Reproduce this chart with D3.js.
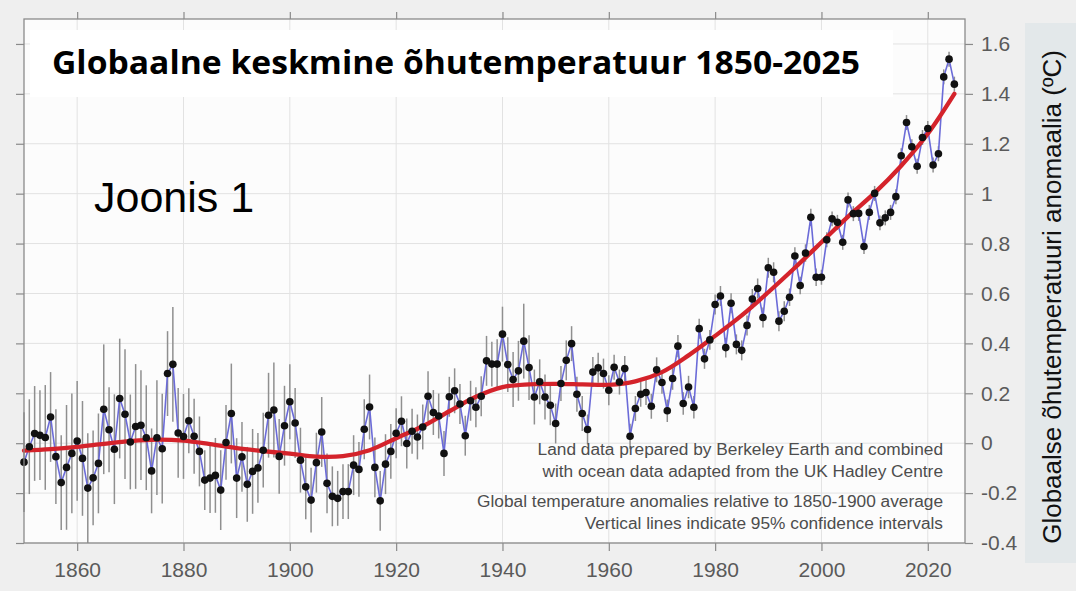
<!DOCTYPE html>
<html>
<head>
<meta charset="utf-8">
<script src="https://cdn.jsdelivr.net/npm/d3@7"></script>
<style>
  html, body { margin: 0; padding: 0; background: #efefef; }
  svg { display: block; }
</style>
</head>
<body>
<svg id="chart" width="1076" height="591"></svg>
<script>
// ---------------- DATA ----------------
const firstYear = 1850;
const anomalies = [
  -0.076, -0.014, 0.039, 0.032, 0.023, 0.105, -0.054, -0.158, -0.097, -0.041, // 1850s
  0.009, -0.061, -0.180, -0.139, -0.081, 0.136, 0.054, -0.024, 0.179, 0.116,   // 1860s
  0.005, 0.067, 0.072, 0.022, -0.111, 0.022, -0.022, 0.279, 0.316, 0.041,      // 1870s
  0.027, 0.090, 0.028, -0.033, -0.148, -0.140, -0.129, -0.188, 0.003, 0.119,   // 1880s
  -0.140, -0.055, -0.165, -0.113, -0.099, -0.028, 0.112, 0.133, -0.053, 0.070, // 1890s
  0.166, 0.081, -0.068, -0.175, -0.228, -0.078, 0.045, -0.161, -0.213, -0.221, // 1900s
  -0.194, -0.194, -0.088, -0.105, 0.056, 0.145, -0.097, -0.231, -0.084, -0.033,// 1910s
  0.040, 0.088, -0.001, 0.048, 0.025, 0.065, 0.188, 0.123, 0.109, -0.041,      // 1920s
  0.186, 0.210, 0.157, 0.030, 0.170, 0.144, 0.188, 0.330, 0.317, 0.317,        // 1930s
  0.437, 0.315, 0.255, 0.290, 0.409, 0.303, 0.185, 0.246, 0.185, 0.152,        // 1940s
  0.079, 0.239, 0.332, 0.399, 0.196, 0.119, 0.055, 0.285, 0.302, 0.279,        // 1950s
  0.212, 0.304, 0.245, 0.299, 0.028, 0.139, 0.196, 0.203, 0.148, 0.294,        // 1960s
  0.243, 0.130, 0.259, 0.389, 0.159, 0.225, 0.144, 0.459, 0.338, 0.414,        // 1970s
  0.556, 0.590, 0.383, 0.561, 0.396, 0.372, 0.472, 0.578, 0.620, 0.504,        // 1980s
  0.703, 0.685, 0.489, 0.529, 0.585, 0.750, 0.632, 0.762, 0.905, 0.665,        // 1990s
  0.665, 0.815, 0.899, 0.885, 0.805, 0.975, 0.920, 0.921, 0.788, 0.925,        // 2000s
  1.001, 0.883, 0.903, 0.925, 0.988, 1.152, 1.285, 1.188, 1.110, 1.225,        // 2010s
  1.261, 1.115, 1.160, 1.468, 1.539, 1.439                                      // 2020s
];
// 95% confidence half-widths (°C)
const uncertainty = [
  0.20, 0.19, 0.19, 0.18, 0.21, 0.18, 0.19, 0.19, 0.25, 0.24,
  0.24, 0.23, 0.22, 0.19, 0.20, 0.26, 0.17, 0.22, 0.24, 0.26,
  0.19, 0.25, 0.22, 0.21, 0.17, 0.23, 0.22, 0.17, 0.23, 0.18,
  0.17, 0.13, 0.15, 0.14, 0.12, 0.14, 0.15, 0.16, 0.15, 0.20,
  0.16, 0.14, 0.15, 0.17, 0.14, 0.15, 0.17, 0.19, 0.15, 0.16,
  0.15, 0.14, 0.13, 0.13, 0.13, 0.12, 0.14, 0.12, 0.12, 0.11,
  0.11, 0.11, 0.12, 0.11, 0.12, 0.13, 0.12, 0.12, 0.12, 0.11,
  0.10, 0.10, 0.10, 0.09, 0.09, 0.09, 0.10, 0.09, 0.09, 0.09,
  0.08, 0.09, 0.08, 0.08, 0.08, 0.08, 0.08, 0.10, 0.09, 0.10,
  0.11, 0.11, 0.11, 0.12, 0.15, 0.13, 0.11, 0.09, 0.09, 0.08,
  0.08, 0.07, 0.08, 0.07, 0.07, 0.07, 0.06, 0.06, 0.06, 0.06,
  0.06, 0.05, 0.05, 0.05, 0.05, 0.05, 0.05, 0.05, 0.05, 0.05,
  0.045, 0.045, 0.045, 0.045, 0.045, 0.045, 0.045, 0.04, 0.04, 0.04,
  0.04, 0.04, 0.04, 0.04, 0.04, 0.04, 0.04, 0.04, 0.04, 0.04,
  0.04, 0.04, 0.04, 0.04, 0.035, 0.035, 0.035, 0.035, 0.035, 0.035,
  0.03, 0.03, 0.03, 0.03, 0.03, 0.03, 0.03, 0.03, 0.03, 0.03,
  0.03, 0.03, 0.03, 0.03, 0.03, 0.03, 0.03, 0.03, 0.03, 0.03,
  0.03, 0.03, 0.03, 0.03, 0.03, 0.03
];
// smoothed trend (red curve), read every 5 years
const trendYears = [1850,1855,1860,1865,1870,1875,1880,1885,1890,1895,1900,1905,1910,1915,1920,1925,1930,1935,1940,1945,1950,1955,1960,1965,1970,1975,1980,1985,1990,1995,2000,2005,2010,2015,2020,2025];
const trendValues = [-0.030,-0.024,-0.015,-0.003,0.008,0.014,0.010,-0.004,-0.020,-0.032,-0.042,-0.054,-0.052,-0.028,0.020,0.068,0.128,0.186,0.225,0.236,0.238,0.236,0.234,0.248,0.285,0.352,0.430,0.512,0.605,0.703,0.805,0.908,1.003,1.112,1.240,1.400];

const xTickYears = [1860, 1880, 1900, 1920, 1940, 1960, 1980, 2000, 2020];
const yTickValues = [-0.4, -0.2, 0, 0.2, 0.4, 0.6, 0.8, 1.0, 1.2, 1.4, 1.6];
const yTickLabels = ["-0.4", "-0.2", "0", "0.2", "0.4", "0.6", "0.8", "1", "1.2", "1.4", "1.6"];

const titleText = "Globaalne keskmine õhutemperatuur 1850-2025";
const figureLabel = "Joonis 1";
const yAxisTitle = "Globaalse õhutemperatuuri anomaalia (ºC)";
const noteLines = [
  "Land data prepared by Berkeley Earth and combined",
  "with ocean data adapted from the UK Hadley Centre",
  "Global temperature anomalies relative to 1850-1900 average",
  "Vertical lines indicate 95% confidence intervals"
];

// ---------------- CHART ----------------
const svg = d3.select("#chart");
const L = 24, R = 965, T = 19, B = 543;
const x = d3.scaleLinear().domain([1850, 2027]).range([L, R]);
const y = d3.scaleLinear().domain([-0.4, 1.7]).range([B, T]);

const data = anomalies.map((v, i) => ({ year: firstYear + i, value: v, err: uncertainty[i] }));
const trend = trendYears.map((yr, i) => ({ year: yr, value: trendValues[i] }));

// background
svg.append("rect").attr("x", 0).attr("y", 0).attr("width", 1076).attr("height", 591).attr("fill", "#efefef");
svg.append("rect").attr("x", L).attr("y", T).attr("width", R - L).attr("height", B - T).attr("fill", "#fcfcfc");

// grid
const grid = svg.append("g").attr("stroke", "#e2e2e2").attr("stroke-width", 1);
grid.selectAll("line.v").data(xTickYears).join("line")
  .attr("x1", d => x(d)).attr("x2", d => x(d)).attr("y1", T).attr("y2", B);
grid.selectAll("line.h").data(yTickValues).join("line")
  .attr("y1", d => y(d)).attr("y2", d => y(d)).attr("x1", L).attr("x2", R);

// title box
svg.append("rect").attr("x", 30).attr("y", 30).attr("width", 863).attr("height", 67).attr("fill", "#ffffff");

// error bars
svg.append("g").selectAll("line").data(data).join("line")
  .attr("x1", d => x(d.year)).attr("x2", d => x(d.year))
  .attr("y1", d => y(d.value - d.err)).attr("y2", d => y(d.value + d.err))
  .attr("stroke", "#8f8f8f").attr("stroke-width", 1.5);

// blue annual line
svg.append("path").datum(data)
  .attr("d", d3.line().x(d => x(d.year)).y(d => y(d.value)))
  .attr("fill", "none").attr("stroke", "#6b6bd8").attr("stroke-width", 1.6);

// red trend
svg.append("path").datum(trend)
  .attr("d", d3.line().curve(d3.curveCatmullRom).x(d => x(d.year)).y(d => y(d.value)))
  .attr("fill", "none").attr("stroke", "#d4232b").attr("stroke-width", 4.3).attr("stroke-linecap", "round");

// points
svg.append("g").selectAll("circle").data(data).join("circle")
  .attr("cx", d => x(d.year)).attr("cy", d => y(d.value)).attr("r", 3.8).attr("fill", "#111");

// axes frame with outward ticks on all sides
const axisColor = "#8a8a8a";
function styleAxis(g) {
  g.select(".domain").remove();
  g.selectAll(".tick line").attr("stroke", axisColor).attr("stroke-width", 1.2);
  g.selectAll(".tick text").attr("fill", "#5a5a5a").attr("font-family", "Liberation Sans, Arial, sans-serif").attr("font-size", 21);
}
svg.append("g").attr("transform", `translate(0,${B})`)
  .call(d3.axisBottom(x).tickValues(xTickYears).tickFormat(d3.format("d")).tickSize(8).tickPadding(11))
  .call(styleAxis);
svg.append("g").attr("transform", `translate(0,${T})`)
  .call(d3.axisTop(x).tickValues(xTickYears).tickFormat("").tickSize(7))
  .call(styleAxis);
svg.append("g").attr("transform", `translate(${R},0)`)
  .call(d3.axisRight(y).tickValues(yTickValues).tickFormat((d, i) => yTickLabels[i]).tickSize(8).tickPadding(8))
  .call(styleAxis);
svg.append("g").attr("transform", `translate(${L},0)`)
  .call(d3.axisLeft(y).tickValues(yTickValues).tickFormat("").tickSize(8))
  .call(styleAxis);
svg.append("rect").attr("x", L).attr("y", T).attr("width", R - L).attr("height", B - T)
  .attr("fill", "none").attr("stroke", axisColor).attr("stroke-width", 1.3);

// notes
const notes = svg.append("g").attr("font-family", "Liberation Sans, Arial, sans-serif").attr("font-size", 17.3)
  .attr("fill", "#4d4d4d").attr("text-anchor", "end");
const noteBaselines = [455, 477, 507, 529];
notes.selectAll("text").data(noteLines).join("text")
  .attr("x", 943).attr("y", (d, i) => noteBaselines[i]).text(d => d);

// title
svg.append("text").attr("x", 52).attr("y", 74)
  .attr("font-family", "Open Sans, Liberation Sans, sans-serif").attr("font-weight", "bold")
  .attr("font-size", 31.5).attr("fill", "#000")
  .attr("textLength", 808).attr("lengthAdjust", "spacingAndGlyphs")
  .text(titleText);

// figure label
svg.append("text").attr("x", 94).attr("y", 212)
  .attr("font-family", "Liberation Sans, Arial, sans-serif").attr("font-size", 43)
  .attr("fill", "#000").text(figureLabel);

// right y-axis title box
svg.append("rect").attr("x", 1025).attr("y", 23).attr("width", 51).attr("height", 540).attr("fill", "#e3e8ea");
svg.append("text").attr("transform", "translate(1061,297) rotate(-90)")
  .attr("text-anchor", "middle")
  .attr("font-family", "Liberation Sans, Arial, sans-serif").attr("font-size", 26)
  .attr("fill", "#111").text(yAxisTitle);
</script>
</body>
</html>
